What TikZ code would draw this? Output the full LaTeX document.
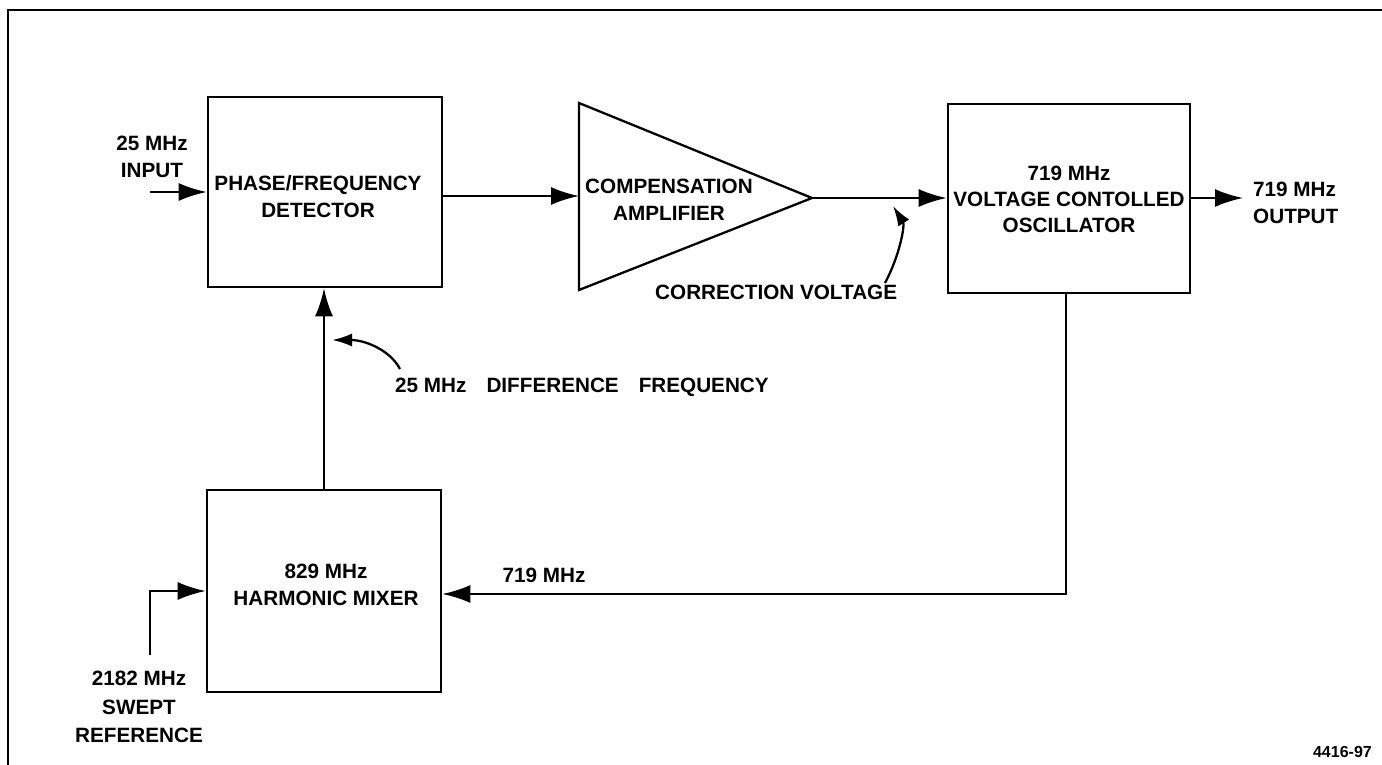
\documentclass[tikz,border=0pt]{standalone}
\usepackage{fontspec}
\setmainfont{Liberation Sans}
\usetikzlibrary{arrows.meta}
\begin{document}
\begin{tikzpicture}[x=1pt,y=-1pt,
  lbl/.style={font=\fontsize{20.7}{27}\selectfont\bfseries, align=center, inner sep=0pt},
  blk/.style={draw, line width=2.6pt, inner sep=0pt},
  wire/.style={line width=2.3pt},
  arr/.style={wire, -{Latex[length=28pt,width=18pt]}},
  ptr/.style={line width=2.3pt, -{Latex[length=20pt,width=13pt]}}]
\useasboundingbox (0,0) rectangle (1382,765);
% frame
\draw[line width=2.4pt] (8,765) -- (8,10) -- (1382,10);
% phase/frequency detector
\node[blk, minimum width=234pt, minimum height=190pt] (pfd) at (325,192) {};
\node[lbl] (pfdt) at (318,197) {PHASE/FREQUENCY\\DETECTOR};
% amplifier
\coordinate (atop) at (579,103);
\coordinate (abot) at (579,290);
\coordinate (aout) at (812,198);
\draw[line width=2.3pt, line join=miter] (atop) -- (aout) -- (abot) -- cycle;
\node[lbl] (ampt) at (669,200) {COMPENSATION\\AMPLIFIER};
\coordinate (ain) at (579,196);
% VCO
\node[blk, minimum width=242pt, minimum height=189pt] (vco) at (1069,198.5) {};
\node[lbl, font=\fontsize{20.7}{26}\selectfont\bfseries] (vcot) at (1069,199) {719 MHz\\VOLTAGE CONTOLLED\\OSCILLATOR};
% mixer
\node[blk, minimum width=234pt, minimum height=202pt] (mix) at (324,591) {};
\node[lbl] (mixt) at (326,585) {829 MHz\\HARMONIC MIXER};
% connectors
\coordinate (in) at (150,192);
\draw[arr] (in) -- (pfd.west);
\node[lbl] (int) at (152,157) {25 MHz\\INPUT};
\draw[arr] (pfd.east |- ain) -- (ain);
\draw[arr] (aout) -- (vco.west |- aout);
\coordinate (out) at (1243,198);
\draw[arr] (vco.east |- out) -- (out);
\node[lbl, anchor=west, align=left] (outt) at (1253,203) {719 MHz\\OUTPUT};
\draw[arr] (mix.north) -- (mix.north |- pfd.south);
\coordinate (fb) at (1066,594);
\draw[arr] (vco.south -| fb) -- (fb) -- (mix.east |- fb);
\node[lbl] (fbt) at (544,575) {719 MHz};
\coordinate (sw) at (150,655);
\draw[arr] (sw) |- (mix.west);
\node[lbl, font=\fontsize{20.7}{28.5}\selectfont\bfseries] (swt) at (139,707) {2182 MHz\\SWEPT\\REFERENCE};
% pointers
\coordinate (d0) at (400,369);
\coordinate (d1) at (332,340);
\draw[ptr] (d0) .. controls (390,350) and (365,340) .. (d1);
\node[lbl, anchor=west] (difft) at (395,387) {25 MHz\hspace{20pt}DIFFERENCE\hspace{20pt}FREQUENCY};
\coordinate (c0) at (885,283);
\coordinate (c1) at (893,206);
\draw[ptr] (c0) .. controls (900,255) and (905,225) .. (c1);
\node[lbl, anchor=west] (cvt) at (655,292) {CORRECTION VOLTAGE};
\node[font=\fontsize{16}{18}\selectfont\bfseries, anchor=east, inner sep=0pt] (fig) at (1372,752) {4416-97};
\end{tikzpicture}
\end{document}
